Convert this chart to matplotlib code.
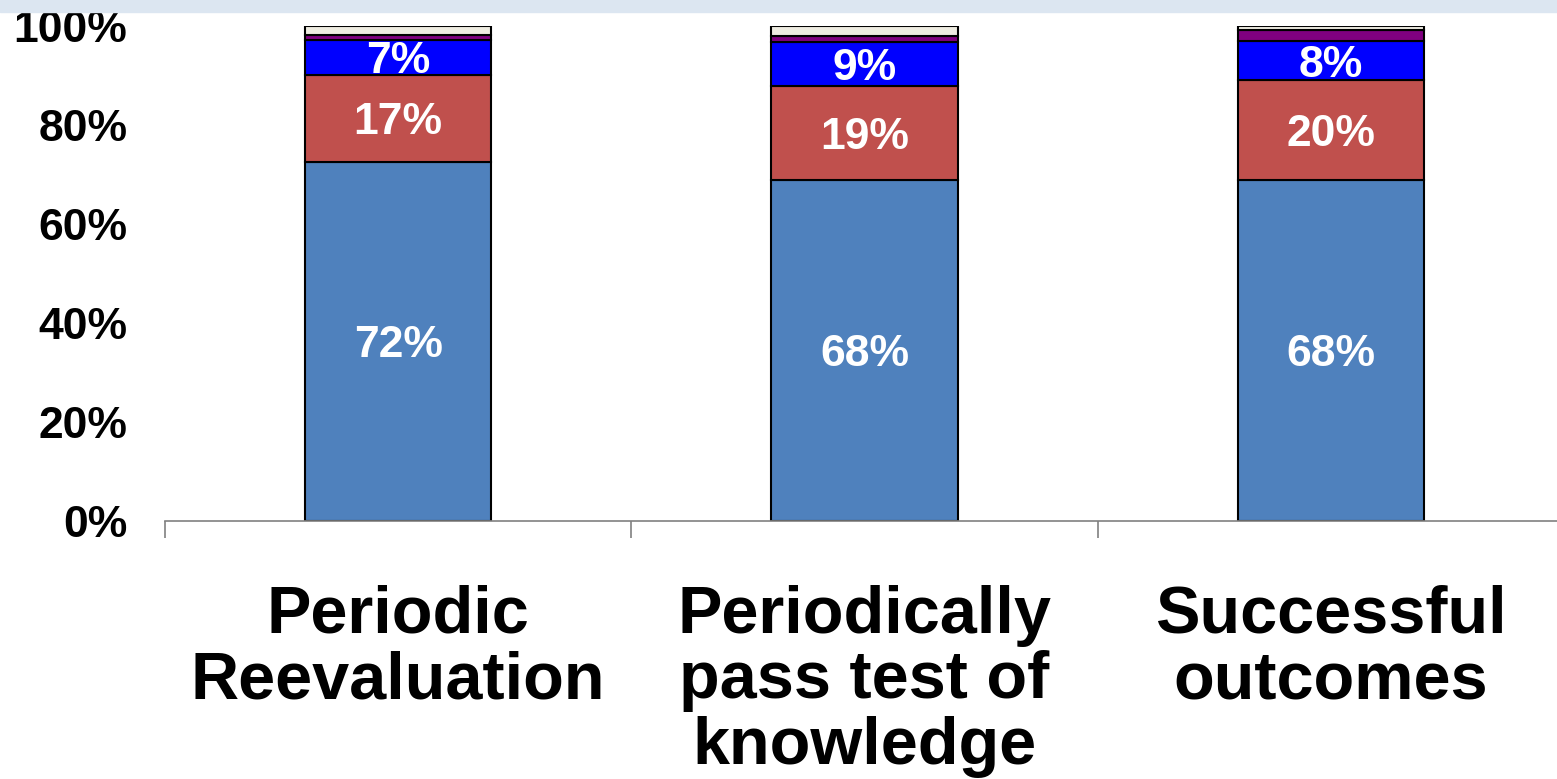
import matplotlib.pyplot as plt
from matplotlib.patches import Rectangle

plt.rcParams['font.family'] = ['Liberation Sans', 'DejaVu Sans']
plt.rcParams['font.weight'] = 'bold'

categories = ["Periodic\nReevaluation", "Periodically\npass test of\nknowledge", "Successful\noutcomes"]

# stacked shares (fraction of 1), bottom to top
seg_steel = [0.725, 0.688, 0.688]
seg_red = [0.177, 0.190, 0.202]
seg_blue = [0.070, 0.089, 0.079]
seg_purple = [0.010, 0.012, 0.022]
seg_cream = [0.018, 0.021, 0.009]

labels_steel = ["72%", "68%", "68%"]
labels_red = ["17%", "19%", "20%"]
labels_blue = ["7%", "9%", "8%"]

series = [
    (seg_steel, "#4F81BD", labels_steel),
    (seg_red, "#C0504D", labels_red),
    (seg_blue, "#0000FF", labels_blue),
    (seg_purple, "#800080", None),
    (seg_cream, "#EEECE1", None),
]

fig = plt.figure(figsize=(15.57, 7.79), dpi=100)
fig.patches.append(Rectangle((0, 1 - 12 / 779), 1, 12 / 779, transform=fig.transFigure,
                             color="#DCE6F1", zorder=0))

ax = fig.add_axes([165 / 1557, 1 - 521 / 779, 1 - 165 / 1557, (521 - 26) / 779])

x = list(range(len(categories)))
bottom = [0.0] * len(categories)
for vals, color, labs in series:
    bars = ax.bar(x, vals, width=0.4, bottom=bottom, color=color,
                  edgecolor="black", linewidth=1.5)
    if labs:
        for i, b in enumerate(bars):
            ax.annotate(labs[i], (b.get_x() + b.get_width() / 2, bottom[i] + vals[i] / 2),
                        xytext=(0, -3), textcoords="offset points",
                        ha="center", va="center", color="white", fontsize=32,
                        fontweight="bold")
    bottom = [bottom[i] + vals[i] for i in range(len(vals))]

ax.set_xlim(-0.5, 2.485)
ax.set_ylim(0, 1)

ax.set_yticks([0, 0.2, 0.4, 0.6, 0.8, 1.0])
ax.set_yticklabels(["0%", "20%", "40%", "60%", "80%", "100%"])
ax.tick_params(axis="y", length=0, pad=27, labelsize=32)

ax.set_xticks(x)
ax.set_xticklabels(categories, fontsize=48, linespacing=1.07)
ax.tick_params(axis="x", which="major", length=0, pad=46)
ax.set_xticks([-0.5, 0.5, 1.5], minor=True)
ax.tick_params(axis="x", which="minor", length=12, width=1.2, color="#808080")

for s in ["top", "right", "left"]:
    ax.spines[s].set_visible(False)
ax.spines["bottom"].set_color("#808080")
ax.spines["bottom"].set_linewidth(1.2)

fig.savefig("out.png", dpi=100)
